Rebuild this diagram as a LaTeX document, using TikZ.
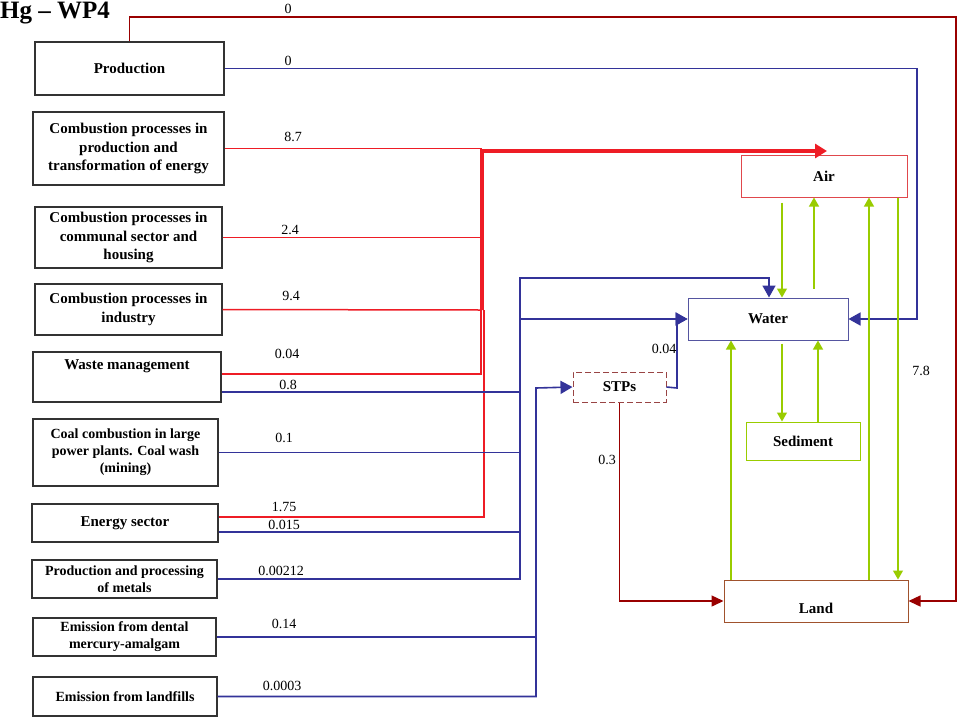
\documentclass[tikz,border=0pt]{standalone}
\usepackage{fontspec}
\setmainfont{Liberation Serif}
\usepackage{tikz}
\usetikzlibrary{shapes,arrows.meta}
\definecolor{dred}{HTML}{990000}
\definecolor{lred}{HTML}{EE1C25}
\definecolor{hblue}{HTML}{333399}
\definecolor{hgreen}{HTML}{99CC00}
\definecolor{airc}{HTML}{E0474C}
\definecolor{waterc}{HTML}{5555A0}
\definecolor{landc}{HTML}{A0522D}
\definecolor{stpc}{HTML}{994444}
\newcommand{\bigf}{\fontsize{15}{18.5}\selectfont\bfseries}
\newcommand{\smallf}{\fontsize{14}{17}\selectfont\bfseries}
\newcommand{\numf}{\fontsize{14}{16}\selectfont}

\begin{document}
\begin{tikzpicture}[x=1pt,y=-1pt,
  src/.style={draw=black!80,line width=1.2pt,align=center,inner sep=2pt,font=\bigf},
  sink/.style={draw,line width=1pt,font=\bigf},
  num/.style={font=\numf,inner sep=0pt},
  rl/.style={lred,line width=1.5pt},
  bl/.style={hblue,line width=1.6pt},
  dl/.style={dred,line width=1.4pt,-{Triangle[length=12pt,width=11pt]}},
  ba/.style={bl,-{Triangle[length=12pt,width=13pt]}},
  ga/.style={hgreen,line width=1.2pt,-{Triangle[length=9pt,width=10pt]}}]
\useasboundingbox (0,0) rectangle (959,716);
\node[anchor=base west,inner sep=0pt,font=\fontsize{25}{25}\selectfont\bfseries] (title) at (0,18) {Hg -- WP4};

\node[src,minimum width=189pt,minimum height=53pt] (prod) at (129.5,68.5) {Production};
\node[src,minimum width=191pt,minimum height=73pt] (comb1) at (128.5,148.5) {Combustion processes in\\production and\\transformation of energy};
\node[src,minimum width=187pt,minimum height=61pt] (comb2) at (128.5,237.5) {Combustion processes in\\communal sector and\\housing};
\node[src,minimum width=187pt,minimum height=51pt] (comb3) at (128.5,309.5) {Combustion processes in\\industry};
\node[src,minimum width=188pt,minimum height=50pt] (waste) at (127,377) {Waste management\\\strut};
\node[src,font=\smallf,minimum width=185pt,minimum height=67pt] (coal) at (125.5,452.5) {Coal combustion in large\\power plants. Coal wash\\(mining)};
\node[src,minimum width=186pt,minimum height=38pt] (energy) at (125,523) {Energy sector};
\node[src,font=\smallf,minimum width=185pt,minimum height=38pt] (metals) at (124.5,579) {Production and processing\\of metals};
\node[src,font=\smallf,minimum width=183pt,minimum height=38pt] (dental) at (124.5,637) {Emission from dental\\mercury-amalgam};
\node[src,font=\smallf,minimum width=184pt,minimum height=39pt] (landfill) at (125,696.5) {Emission from landfills};

\node[sink,draw=airc,minimum width=166pt,minimum height=42pt] (air) at (824,176) {Air};
\node[sink,draw=waterc,minimum width=160pt,minimum height=42pt] (water) at (768,319) {Water};
\node[sink,draw=stpc,dashed,dash pattern=on 6pt off 3pt,minimum width=93pt,minimum height=30pt] (stp) at (619.5,387) {STPs};
\node[sink,draw=hgreen,minimum width=114pt,minimum height=38pt] (sed) at (803,441) {Sediment};
\node[sink,draw=landc,minimum width=184pt,minimum height=42pt,text height=24pt,text depth=0pt] (land) at (816,601) {Land};

\coordinate (redjoin) at (482,310);
\coordinate (airin) at (827,151);
\coordinate (bluejoin) at (520,278);
\coordinate (stpjoin) at (536,388);

\draw[dl] (prod.north) -- (prod.north |- 0,17) -- (956,17) |- (land.east);
\draw[ba] (prod.east) -- (917,68.5) |- (water.east);

\draw[rl] (comb1.east) -- (redjoin |- comb1.east);
\draw[rl] (comb2.east) -- (redjoin |- comb2.east);
\draw[rl] (comb3.east) -- (redjoin);
\draw[rl] (waste.east |- 0,374) -- (481,374) -- (481,310);
\draw[rl] (energy.east |- 0,517) -- (484,517) -- (484,310);
\draw[lred,line width=4pt,-{Triangle[length=12pt,width=14pt]}] (redjoin) -- (redjoin |- airin) -- (airin);

\draw[bl] (waste.east |- 0,392) -- (bluejoin |- 0,392);
\draw[bl] (coal.east) -- (bluejoin |- coal.east);
\draw[bl] (energy.east |- 0,532) -- (bluejoin |- 0,532);
\draw[ba] (metals.east) -- (bluejoin |- metals.east) -- (bluejoin) -| (769,0 |- water.north);
\draw[ba] (bluejoin |- metals.east) |- (water.west);
\draw[bl] (dental.east) -- (stpjoin |- dental.east);
\draw[ba] (landfill.east) -- (stpjoin |- landfill.east) -- (stpjoin) -- (stp.west);
\draw[ba] (stp.east) -- (677,388) |- (water.west);
\draw[dl] (stp.south) |- (land.west);

\draw[ga,shorten <=5pt] (782,0 |- air.south) -- (782,0 |- water.north);
\draw[ga,shorten <=9pt] (814,0 |- water.north) -- (814,0 |- air.south);
\draw[ga] (869,0 |- land.north) -- (869,0 |- air.south);
\draw[ga] (898,0 |- air.south) -- (898,0 |- land.north);
\draw[ga] (731,0 |- land.north) -- (731,0 |- water.south);
\draw[ga,shorten <=3pt] (782,0 |- water.south) -- (782,0 |- sed.north);
\draw[ga] (818,0 |- sed.north) -- (818,0 |- water.south);

\node[num] (n1) at (288,9) {0};
\node[num] (n2) at (288,61) {0};
\node[num] (n3) at (293,137) {8.7};
\node[num] (n4) at (290,230) {2.4};
\node[num] (n5) at (291,296) {9.4};
\node[num] (n6) at (287,354) {0.04};
\node[num] (n7) at (288,385) {0.8};
\node[num] (n8) at (284,438) {0.1};
\node[num] (n9) at (284,507) {1.75};
\node[num] (n10) at (284,525) {0.015};
\node[num] (n11) at (281,571) {0.00212};
\node[num] (n12) at (284,624) {0.14};
\node[num] (n13) at (282,686) {0.0003};
\node[num] (n14) at (664,349) {0.04};
\node[num] (n15) at (607,460) {0.3};
\node[num] (n16) at (921,371) {7.8};
\end{tikzpicture}
\end{document}
